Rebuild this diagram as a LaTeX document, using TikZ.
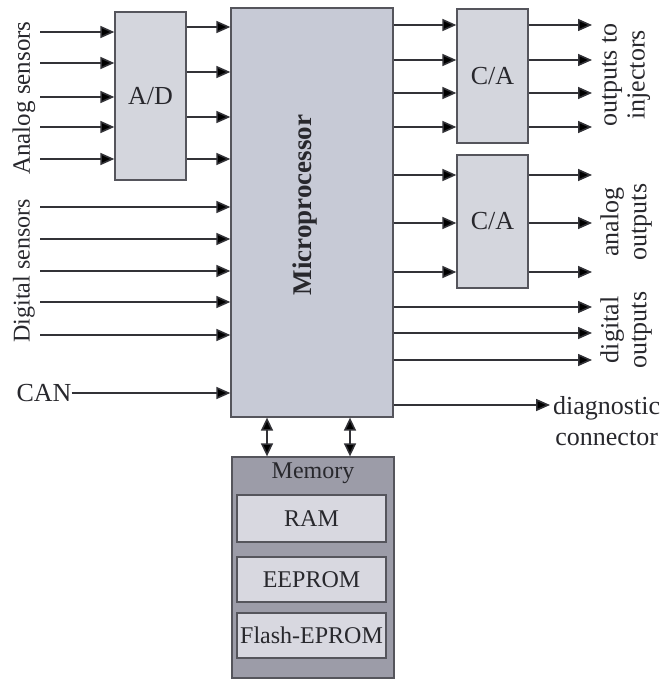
\documentclass[tikz,border=0pt]{standalone}
\usepackage{fontspec}
\setmainfont{Liberation Serif}
\usetikzlibrary{arrows.meta}
\definecolor{mpfill}{RGB}{199,202,214}
\definecolor{boxfill}{RGB}{212,214,221}
\definecolor{memfill}{RGB}{156,156,168}
\definecolor{innerfill}{RGB}{216,216,224}
\definecolor{linecol}{RGB}{50,50,55}
\definecolor{edgecol}{RGB}{85,85,92}
\definecolor{txtcol}{RGB}{40,40,45}
\begin{document}
\begin{tikzpicture}[x=1pt,y=-1pt,
  every node/.style={text=txtcol, font=\fontsize{24}{28}\selectfont},
  blockbox/.style={draw=edgecol, line width=1.3pt, inner sep=0pt},
  arr/.style={draw=linecol, line width=1.6pt, -{Triangle[length=14pt,width=12pt,fill=black]}},
  darr/.style={draw=linecol, line width=1.6pt, {Triangle[length=13pt,width=12pt,fill=black]}-{Triangle[length=13pt,width=12pt,fill=black]}},
  vlabel/.style={rotate=90, align=center, inner sep=0pt}]
\useasboundingbox (0,0) rectangle (663,679);
\fill[white] (0,0) rectangle (663,679);

% blocks
\node[blockbox, fill=mpfill, minimum width=162pt, minimum height=409pt] (mp) at (312,212.5) {};
\node[blockbox, fill=boxfill, minimum width=71pt, minimum height=168pt] (ad) at (150.5,96) {};
\node[blockbox, fill=boxfill, minimum width=71pt, minimum height=134pt] (ca1) at (492.5,76) {};
\node[blockbox, fill=boxfill, minimum width=71pt, minimum height=133pt] (ca2) at (492.5,221.5) {};
\node[blockbox, fill=memfill, minimum width=162pt, minimum height=221pt] (mem) at (313,567.5) {};
\node[blockbox, fill=innerfill, minimum width=149pt, minimum height=47pt] (ram) at (311.5,518.5) {RAM};
\node[blockbox, fill=innerfill, minimum width=149pt, minimum height=45pt] (eep) at (311.5,579.5) {EEPROM};
\node[blockbox, fill=innerfill, minimum width=149pt, minimum height=45pt] (fla) at (311.5,635.5) {Flash-EPROM};
\node (memlbl) at (313,473) {Memory};

\node[font=\fontsize{26}{30}\selectfont] (adl) at (ad.center) {A/D};
\node[font=\fontsize{26}{30}\selectfont] (ca1l) at (ca1.center) {C/A};
\node[font=\fontsize{26}{30}\selectfont] (ca2l) at (ca2.center) {C/A};
\node[vlabel, font=\fontsize{27}{30}\bfseries\selectfont] (mpl) at (305,205) {Microprocessor};

% left labels
\node[vlabel, font=\fontsize{25}{28}\selectfont] (anl) at (24,98) {Analog sensors};
\node[vlabel] (dgl) at (24,271) {Digital sensors};
\node[inner sep=0pt, font=\fontsize{26}{28}\selectfont] (can) at (44,393) {CAN};

% right labels
\node[vlabel, font=\fontsize{26}{28}\selectfont] (inj) at (626,75) {outputs to\\injectors};
\node[vlabel, font=\fontsize{26}{28}\selectfont] (ano) at (626,222) {analog\\outputs};
\node[vlabel, font=\fontsize{26}{28}\selectfont] (dgo) at (626,330) {digital\\outputs};
\node[align=center, anchor=west, inner sep=0pt, font=\fontsize{26}{31}\selectfont] (diag) at (553,421) {diagnostic\\connector};

% A/D inputs
\foreach \i/\y in {1/32,2/63,3/97,4/127,5/159} {
  \coordinate (ai\i) at (40,\y);
  \draw[arr] (ai\i) -- (ai\i -| ad.west);
}
% A/D outputs
\foreach \i/\y in {1/27,2/72,3/117,4/159} {
  \coordinate (ao\i) at (ad.east |- 0,\y);
  \draw[arr] (ao\i) -- (ao\i -| mp.west);
}
% digital inputs
\foreach \i/\y in {1/207,2/239,3/271,4/302,5/335} {
  \coordinate (di\i) at (40,\y);
  \draw[arr] (di\i) -- (di\i -| mp.west);
}
% CAN
\draw[arr] (can.east) -- (can.east -| mp.west);

% C/A 1
\foreach \i/\y in {1/25,2/60,3/93,4/127} {
  \coordinate (c1i\i) at (mp.east |- 0,\y);
  \draw[arr] (c1i\i) -- (c1i\i -| ca1.west);
  \coordinate (c1o\i) at (592,\y);
  \draw[arr] (c1o\i -| ca1.east) -- (c1o\i);
}
% C/A 2
\foreach \i/\y in {1/175,2/223,3/272} {
  \coordinate (c2i\i) at (mp.east |- 0,\y);
  \draw[arr] (c2i\i) -- (c2i\i -| ca2.west);
  \coordinate (c2o\i) at (592,\y);
  \draw[arr] (c2o\i -| ca2.east) -- (c2o\i);
}
% digital outputs
\foreach \i/\y in {1/307,2/333,3/360} {
  \coordinate (dout\i) at (592,\y);
  \draw[arr] (dout\i -| mp.east) -- (dout\i);
}
% diagnostic
\coordinate (dg) at (550,405);
\draw[arr] (dg -| mp.east) -- (dg);

% memory bus
\foreach \i/\x in {1/267,2/350} {
  \coordinate (mb\i) at (\x,0);
  \draw[darr] (mb\i |- mp.south) -- (mb\i |- mem.north);
}
\end{tikzpicture}
\end{document}
